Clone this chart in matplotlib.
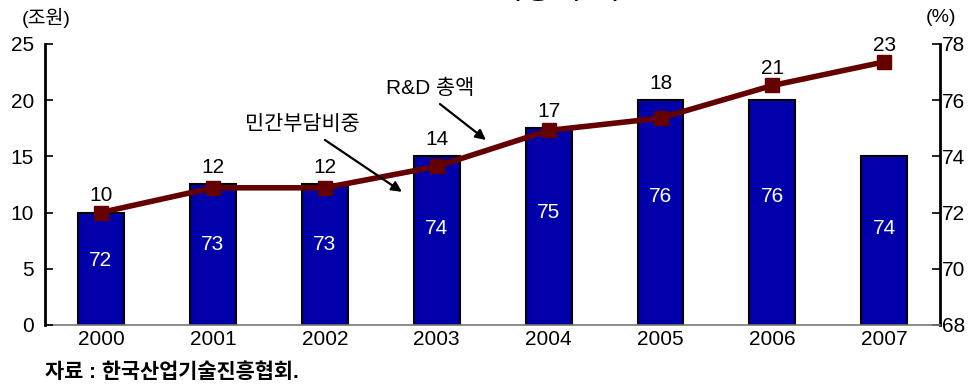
import matplotlib
matplotlib.use('Agg')
import matplotlib.pyplot as plt

plt.rcParams['font.family'] = ['Liberation Sans', 'Noto Sans CJK KR']

# ==========================
# Datos
# ==========================
anios = ['2000', '2001', '2002', '2003', '2004', '2005', '2006', '2007']
rd_total = [10.0, 12.2, 12.2, 14.1, 17.3, 18.4, 21.3, 23.4]      # 조원
minsa_pct = [72, 73, 73, 74, 75, 76, 76, 74]                     # %

azul = '#0000AA'
granate = '#650000'

fig = plt.figure(figsize=(9.69, 3.85), dpi=100)
ax = fig.add_axes([0.0464, 0.156, 0.924, 0.730])
x = list(range(len(anios)))

# Barras: 민간부담비중 (eje derecho)
ax.bar(x, [v - 68 for v in minsa_pct], bottom=68, width=0.41,
       color=azul, edgecolor='black', linewidth=1.5, zorder=2)
for xi, v in zip(x, minsa_pct):
    ax.text(xi, 68 + (v - 68) * 0.57, f'{v}', color='white',
            ha='center', va='center', fontsize=15)

ax.set_xlim(-0.5, 7.5)
ax.set_ylim(68, 78)
ax.set_yticks([68, 70, 72, 74, 76, 78])
ax.set_xticks(x)
ax.set_xticklabels(anios)
ax.tick_params(axis='x', length=0, labelsize=15, pad=4)
ax.spines['top'].set_visible(False)
ax.spines['left'].set_visible(False)
ax.spines['right'].set_linewidth(2)
ax.spines['bottom'].set_color('#777777')
ax.spines['bottom'].set_linewidth(1.2)

# Línea: R&D 총액 (eje izquierdo)
ax2 = ax.twinx()
ax.yaxis.tick_right()
ax.tick_params(axis='y', direction='in', length=6, width=1.2,
               labelsize=15, pad=1)

ax2.plot(x, rd_total, color=granate, linewidth=4, marker='s',
         markersize=10, zorder=3)
# etiqueta encima de la marca más alta (punto o barra)
for xi, v, p in zip(x, rd_total, minsa_pct):
    tope_barra = (p - 68) * 25 / 10
    ax2.annotate(f'{v:.0f}', (xi, max(v, tope_barra)), xytext=(0, 12),
                 textcoords='offset points', ha='center', va='center',
                 fontsize=15)
ax2.set_ylim(0, 25)
ax2.set_yticks([0, 5, 10, 15, 20, 25])
ax2.yaxis.tick_left()
ax2.tick_params(axis='y', direction='in', length=6, width=1.2,
                labelsize=15, pad=8)
for lado in ['top', 'right', 'bottom']:
    ax2.spines[lado].set_visible(False)
ax2.spines['left'].set_visible(True)
ax2.spines['left'].set_linewidth(2)

# Flechas de leyenda
ax2.text(2.94, 21.0, 'R&D 총액', ha='center', va='center', fontsize=15)
ax2.annotate('', xy=(3.46, 16.3), xytext=(3.01, 19.8),
             arrowprops=dict(arrowstyle='-|>', color='black', lw=1.6,
                             mutation_scale=15))
ax2.text(1.80, 17.8, '민간부담비중', ha='center', va='center', fontsize=15)
ax2.annotate('', xy=(2.71, 11.7), xytext=(1.98, 16.6),
             arrowprops=dict(arrowstyle='-|>', color='black', lw=1.6,
                             mutation_scale=15))

# Textos de la figura
fig.text(485 / 969, 1.004, '민간 R&D 비중 추이', ha='center',
         va='baseline', fontsize=23)
fig.text(22 / 969, 1 - 18 / 385, '(조원)', ha='left', va='center',
         fontsize=14)
fig.text(956 / 969, 1 - 18 / 385, '(%)', ha='right', va='center',
         fontsize=14)
fig.text(45 / 969, 1 - 372 / 385, '자료 : 한국산업기술진흥협회.',
         ha='left', va='center', fontsize=15, fontweight='bold')

fig.savefig('out.png', dpi=100, facecolor='white')
